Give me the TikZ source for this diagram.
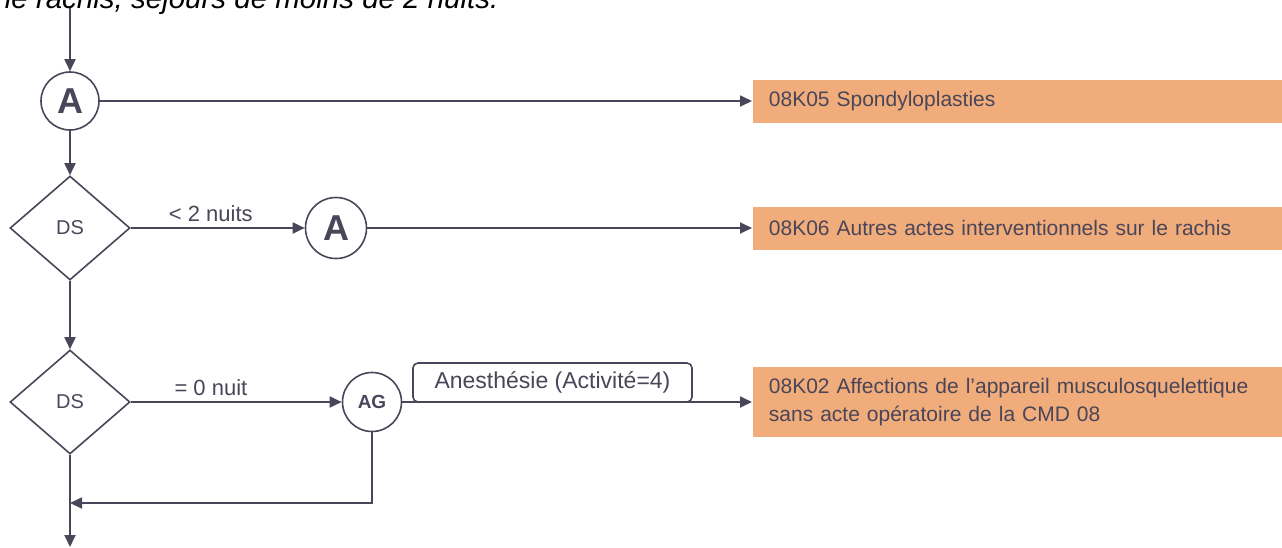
\documentclass[tikz,border=0pt]{standalone}
\usepackage{fontspec}
\setmainfont{Liberation Sans}
\usetikzlibrary{arrows.meta,shapes.geometric}
\definecolor{ink}{HTML}{4A4558}
\definecolor{ghm}{HTML}{F0AD7B}
\tikzset{>={Triangle[length=12pt,width=11pt]}}
\tikzset{
  conn/.style={circle, draw=ink, line width=1.6pt, inner sep=0pt, minimum size=58pt,
    font=\bfseries\fontsize{36}{36}\selectfont},
  test/.style={diamond, draw=ink, line width=1.6pt, inner sep=0pt, aspect=1.15,
    minimum width=120pt, minimum height=104pt, font=\fontsize{20}{20}\selectfont},
  ghmbox/.style={fill=ghm, anchor=west, text width=500pt, align=left, inner xsep=16pt,
    inner ysep=0pt, minimum height=43pt, font=\fontsize{21}{28}\selectfont},
  tag/.style={draw=ink, line width=1.6pt, fill=white, rounded corners=5pt,
    minimum width=279pt, minimum height=39pt, inner sep=0pt, font=\fontsize{23}{23}\selectfont},
  lbl/.style={font=\fontsize{22}{22}\selectfont, inner sep=1pt}
}

\begin{document}
\begin{tikzpicture}[x=1pt, y=-1pt, color=ink, line width=1.8pt]
\useasboundingbox (0,0) rectangle (1282,547);
\node[anchor=base west, text=black, inner sep=0pt, font=\itshape\fontsize{29.5}{29.5}\selectfont]
  (titre) at (4,8) {le rachis, séjours de moins de 2 nuits.};

\coordinate (haut) at (70,8);
\coordinate (bas) at (70,547);
\coordinate (retour) at (70,503);

\node[conn] (a1) at (70,101) {A};
\node[test] (ds1) at (70,228) {DS};
\node[conn, minimum size=61pt] (a2) at (336,228) {A};
\node[test] (ds2) at (70,402) {DS};
\node[conn, minimum size=59pt, font=\bfseries\fontsize{19}{19}\selectfont] (ag) at (372,402) {AG};

\node[ghmbox] (k05) at (752,101) {08K05 Spondyloplasties};
\node[ghmbox] (k06) at (752,228) {08K06 Autres actes interventionnels sur le rachis};
\node[ghmbox, minimum height=70pt] (k02) at (752,402)
  {08K02 Affections de l'appareil musculosquelettique\\sans acte opératoire de la CMD 08};

\draw[->] (haut) -- (a1);
\draw[->] (a1) -- (k05);
\draw[->] (a1) -- (ds1);
\draw[->] (ds1) -- node[lbl, above=4pt, pos=0.46] {< 2 nuits} (a2);
\draw[->] (a2) -- (k06);
\draw[->] (ds1) -- (ds2);
\draw[->] (ds2) -- node[lbl, above=4pt, pos=0.38] {= 0 nuit} (ag);
\draw[->] (ag) -- (k02);
\draw[->] (ag) |- (retour);
\draw[->] (ds2) -- (bas);

\node[tag] (anes) at (552.5,382.5) {Anesthésie (Activité=4)};
\end{tikzpicture}
\end{document}
